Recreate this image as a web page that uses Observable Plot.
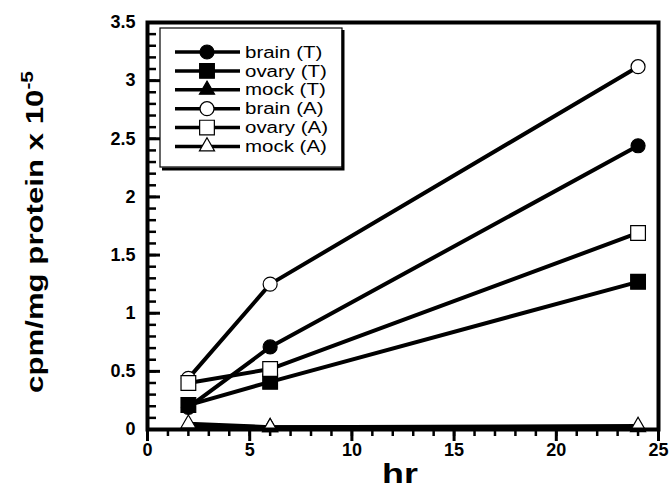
<!DOCTYPE html>
<html><head><meta charset="utf-8">
<script src="https://cdn.jsdelivr.net/npm/d3@7"></script>
<script src="https://cdn.jsdelivr.net/npm/@observablehq/plot@0.6"></script>
<style>body{margin:0;background:#fff} #chart{width:671px;height:489px}</style>
</head><body><div id="chart"></div>
<script>
// ---- data ----
const hours = [2, 6, 24];
const seriesNames = ["brain (T)", "ovary (T)", "mock (T)", "brain (A)", "ovary (A)", "mock (A)"];
const brainT = [0.19, 0.71, 2.44];
const ovaryT = [0.21, 0.41, 1.27];
const mockT  = [0.03, 0.02, 0.02];
const brainA = [0.44, 1.25, 3.12];
const ovaryA = [0.40, 0.52, 1.69];
const mockA  = [0.05, 0.02, 0.03];
const xMajorTicks = [0, 5, 10, 15, 20, 25];
const xTickLabels = ["0", "5", "10", "15", "20", "25"];
const yMajorTicks = [0, 0.5, 1, 1.5, 2, 2.5, 3, 3.5];
const yTickLabels = ["0", "0.5", "1", "1.5", "2", "2.5", "3", "3.5"];
const xLabel = "hr";
const yLabel = "cpm/mg protein x 10";
const yLabelExp = "-5";

// ---- styles ----
const W = 671, H = 489, mL = 147, mR = 13, mT = 22, mB = 60;
const plotW = W - mL - mR;
const values = [brainT, ovaryT, mockT, brainA, ovaryA, mockA];
const symbols = ["circle", "square", "triangle", "circle", "square", "triangle"];
const fills = ["black", "black", "black", "white", "white", "white"];
const radii = {circle: 7, square: 8.3, triangle: 5.6};

const series = seriesNames.map((name, k) => ({
  name, symbol: symbols[k], fill: fills[k],
  data: hours.map((h, i) => ({hr: h, v: values[k][i]}))
}));

const marks = [];
for (const s of series) {
  marks.push(Plot.line(s.data, {x: "hr", y: "v", stroke: "black", strokeWidth: 4}));
  marks.push(Plot.dot(s.data, {x: "hr", y: "v", symbol: () => s.symbol, r: radii[s.symbol],
    fill: s.fill, stroke: "black", strokeWidth: 1.2}));
}

const yMinor = d3.range(0, 36).map(i => i / 10);
const xMinor = d3.range(0, 26);

const chart = Plot.plot({
  width: W, height: H,
  marginLeft: mL, marginRight: mR, marginTop: mT, marginBottom: mB,
  style: {fontFamily: "'Liberation Sans', Arial, sans-serif", fontSize: "18px", fontWeight: "bold", background: "white", color: "black"},
  x: {domain: [0, 25]},
  y: {domain: [0, 3.5]},
  symbol: {type: "identity"},
  marks: [
    // inward y ticks: right-anchored tick axes shifted onto the left frame edge
    Plot.axisY(yMinor, {anchor: "right", tickSize: 8, strokeWidth: 2.5, text: null, label: null, dx: -plotW}),
    Plot.axisY(yMajorTicks, {anchor: "right", tickSize: 12, strokeWidth: 3, text: null, label: null, dx: -plotW}),
    Plot.axisX(xMinor, {tickSize: 7, strokeWidth: 2.5, text: null, label: null}),
    Plot.axisX(xMajorTicks, {tickSize: 12, strokeWidth: 3, tickPadding: 2, label: null,
      tickFormat: d => xTickLabels[xMajorTicks.indexOf(d)]}),
    Plot.axisY(yMajorTicks, {anchor: "left", tickSize: 0, tickPadding: 12, label: null,
      tickFormat: d => yTickLabels[yMajorTicks.indexOf(d)]}),
    ...marks,
    Plot.frame({stroke: "black", strokeWidth: 4})
  ]
});
document.getElementById("chart").appendChild(chart);

// ---- axis titles and legend ----
const svg = d3.select(chart);
const font = "'Liberation Sans', Arial, sans-serif";

svg.append("text")
  .attr("transform", "translate(400,483) scale(1.28,1)")
  .attr("text-anchor", "middle")
  .attr("font-family", font).attr("font-size", 28).attr("font-weight", "bold")
  .text(xLabel);

const yt = svg.append("text")
  .attr("transform", "translate(43,232) rotate(-90) scale(1.3,1)")
  .attr("text-anchor", "middle")
  .attr("font-family", font).attr("font-size", 24).attr("font-weight", "bold");
yt.append("tspan").text(yLabel);
yt.append("tspan").attr("dy", -10).attr("font-size", 16).text(yLabelExp);

const lg = svg.append("g");
lg.append("rect").attr("x", 160).attr("y", 28).attr("width", 182).attr("height", 139)
  .attr("fill", "white").attr("stroke", "black").attr("stroke-width", 1.2);
lg.append("path").attr("d", "M343,30V169H162").attr("fill", "none").attr("stroke", "black").attr("stroke-width", 3);
series.forEach((s, k) => {
  const y = 52 + k * 18.9;
  lg.append("line").attr("x1", 175).attr("x2", 240).attr("y1", y).attr("y2", y)
    .attr("stroke", "black").attr("stroke-width", 3.5);
  const sym = {circle: d3.symbolCircle, square: d3.symbolSquare, triangle: d3.symbolTriangle}[s.symbol];
  const r = radii[s.symbol];
  lg.append("path").attr("transform", `translate(207,${y})`)
    .attr("d", d3.symbol(sym, Math.PI * r * r)())
    .attr("fill", s.fill).attr("stroke", "black").attr("stroke-width", 1.2);
  lg.append("text").attr("transform", `translate(245,${y}) scale(1.28,1)`).attr("dy", "0.35em")
    .attr("text-anchor", "start")
    .attr("font-family", font).attr("font-size", 16).attr("font-weight", "normal")
    .text(s.name);
});
</script>
</body></html>
